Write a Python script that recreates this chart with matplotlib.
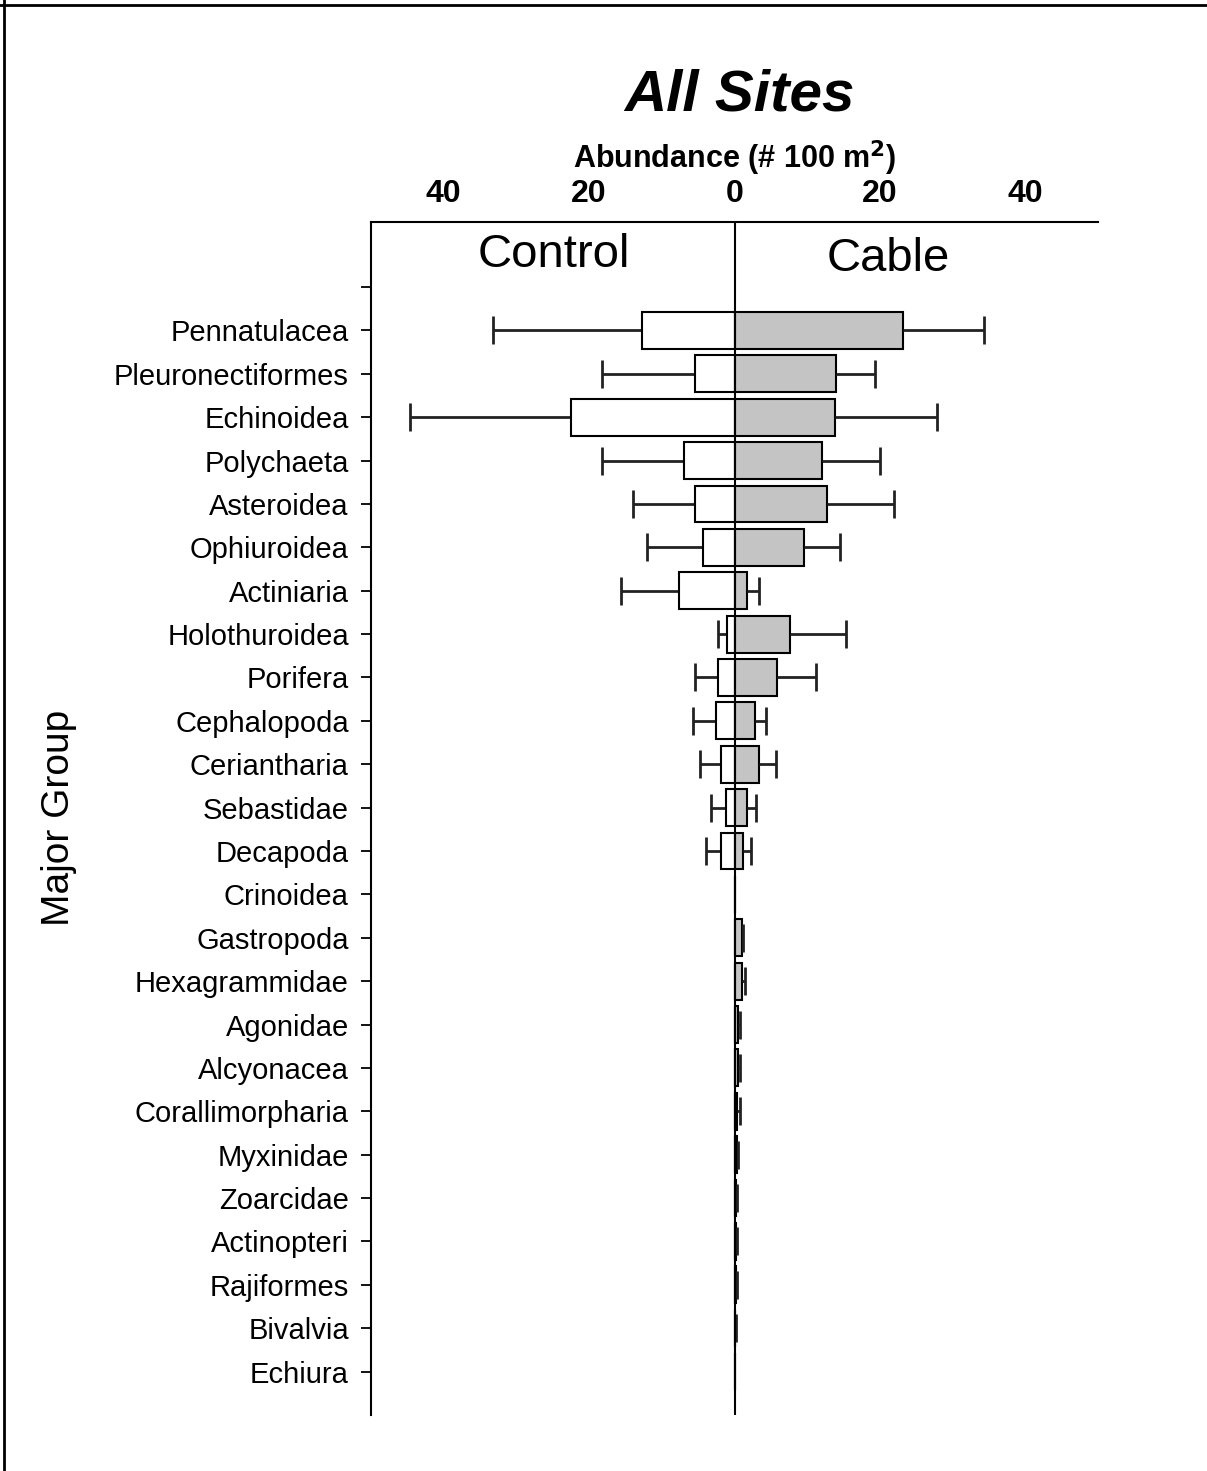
import numpy as np
import matplotlib
matplotlib.use("Agg")
import matplotlib.pyplot as plt
from matplotlib.lines import Line2D

plt.rcParams['font.family'] = ['Liberation Sans', 'DejaVu Sans']

groups = ["Pennatulacea", "Pleuronectiformes", "Echinoidea", "Polychaeta",
          "Asteroidea", "Ophiuroidea", "Actiniaria", "Holothuroidea",
          "Porifera", "Cephalopoda", "Ceriantharia", "Sebastidae",
          "Decapoda", "Crinoidea", "Gastropoda", "Hexagrammidae", "Agonidae",
          "Alcyonacea", "Corallimorpharia", "Myxinidae", "Zoarcidae",
          "Actinopteri", "Rajiformes", "Bivalvia", "Echiura"]

# mean abundance and upper error (# per 100 m2)
control_mean = [12.7, 5.5, 22.5, 6.9, 5.5, 4.4, 7.6, 1.1, 2.3, 2.5, 1.9, 1.2,
                1.9, 0, 0, 0, 0, 0, 0, 0, 0, 0, 0, 0, 0]
control_err = [20.5, 12.7, 22.2, 11.3, 8.4, 7.7, 8.0, 1.2, 3.2, 3.2, 2.8, 2.1,
               2.0, 0, 0, 0, 0, 0, 0, 0, 0, 0, 0, 0, 0]
cable_mean = [23.2, 13.9, 13.8, 12.0, 12.7, 9.5, 1.7, 7.6, 5.9, 2.8, 3.4, 1.7,
              1.2, 0, 1.0, 1.0, 0.5, 0.45, 0.4, 0.3, 0.25, 0.2, 0.2, 0.1, 0]
cable_err = [11.1, 5.4, 14.1, 8.0, 9.2, 5.0, 1.7, 7.7, 5.3, 1.5, 2.3, 1.2,
             1.1, 0, 0.15, 0.4, 0.3, 0.35, 0.3, 0.2, 0.1, 0.08, 0.08, 0.05, 0]

xticks = [-40, -20, 0, 20, 40]
xtick_labels = ["40", "20", "0", "20", "40"]

fig = plt.figure(figsize=(12.07, 14.71), dpi=100)
ax = fig.add_axes([0.3074, 0.0381, 0.6023, 0.8110])

y = np.arange(len(groups))
cm = np.array(control_mean)
ce = np.array(control_err)
bm = np.array(cable_mean)
be = np.array(cable_err)

ax.barh(y, -cm, height=0.85, color="white", edgecolor="black", linewidth=1.5, zorder=2)
ax.barh(y, bm, height=0.85, color="#c4c4c4", edgecolor="black", linewidth=1.5, zorder=2)

# one-sided error bars
mask_c = ce > 0
ax.hlines(y[mask_c], -cm[mask_c], -(cm + ce)[mask_c], color="#222222", linewidth=2, zorder=1)
ax.plot(-(cm + ce)[mask_c], y[mask_c], linestyle="none", marker="|",
        markersize=20, markeredgewidth=2, color="#222222", zorder=1)
mask_b = be > 0
ax.hlines(y[mask_b], bm[mask_b], (bm + be)[mask_b], color="#222222", linewidth=2, zorder=3)
ax.plot((bm + be)[mask_b], y[mask_b], linestyle="none", marker="|",
        markersize=20, markeredgewidth=2, color="#222222", zorder=3)

ax.axvline(0, color="black", linewidth=1.5, zorder=4)

ax.set_xlim(-50, 50)
ax.set_ylim(len(groups), -2.5)

ax.set_yticks(np.arange(-1, len(groups)))
ax.set_yticklabels([""] + groups, fontsize=21)
ax.tick_params(axis="y", direction="out", length=7, width=1.3, pad=9)

ax.xaxis.set_ticks_position("top")
ax.xaxis.set_label_position("top")
ax.set_xticks(xticks)
ax.set_xticklabels(xtick_labels, fontsize=23, fontweight="bold")
ax.tick_params(axis="x", length=0, pad=9)
ax.set_xlabel("Abundance (# 100 m$^\\mathbf{2}$)", fontsize=22, fontweight="bold", labelpad=8)

for side in ["right", "bottom"]:
    ax.spines[side].set_visible(False)
for side in ["left", "top"]:
    ax.spines[side].set_linewidth(1.5)

ax.text(-24.8, -1.75, "Control", fontsize=34, ha="center", va="center")
ax.text(21.2, -1.65, "Cable", fontsize=34, ha="center", va="center")

fig.text(0.613, 0.935, "All Sites", fontsize=42, fontweight="bold", fontstyle="italic",
         ha="center", va="center")
fig.text(0.049, 0.444, "Major Group", fontsize=28, rotation=90, ha="center", va="center")

# figure frame (top and left edges)
fig.add_artist(Line2D([0, 1], [0.9966, 0.9966], transform=fig.transFigure, color="black", linewidth=2))
fig.add_artist(Line2D([0.0035, 0.0035], [0, 1], transform=fig.transFigure, color="black", linewidth=2))

fig.savefig("out.png", dpi=100)
